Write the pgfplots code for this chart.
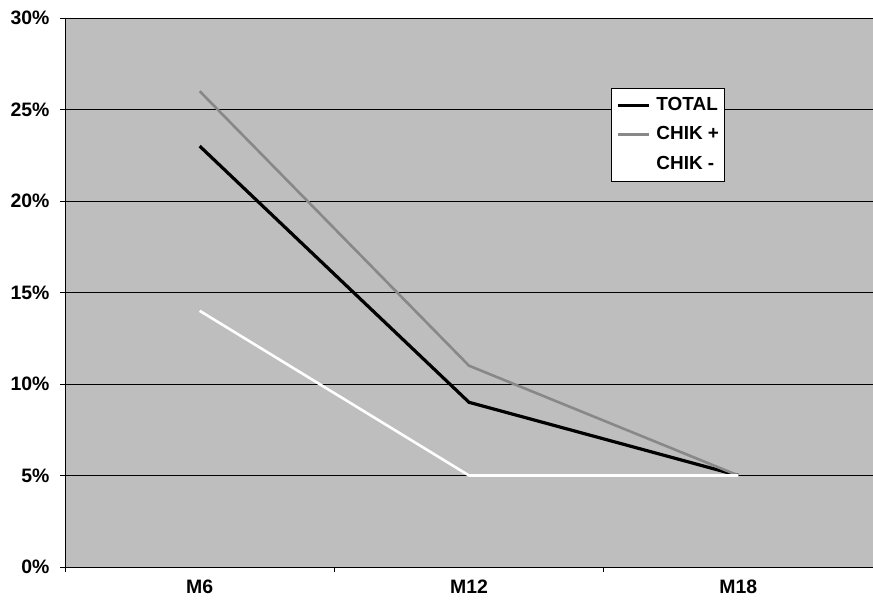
\documentclass[border=0pt]{standalone}
\usepackage{pgfplots}
\pgfplotsset{compat=1.18}
\usepackage{fontspec}
\setmainfont{Liberation Sans}
\definecolor{bgplot}{RGB}{190,190,190}
\definecolor{chikplus}{RGB}{136,136,136}
\newcommand{\tl}[1]{\mbox{\fontsize{19.5}{22}\selectfont\bfseries #1}}
\begin{document}
\begin{tikzpicture}
\useasboundingbox (0,0) rectangle (873bp,607bp);
\begin{axis}[
  at={(65bp,40bp)}, anchor=south west,
  scale only axis, width=808bp, height=549bp,
  xmin=0.5, xmax=3.5, ymin=0, ymax=30,
  axis background/.style={fill=bgplot},
  axis x line*=bottom, axis y line*=left,
  axis line style={black, line width=0.9pt, -},
  xtick={0.5,1.5,2.5,3.5},
  xticklabels={\tl{M6},\tl{M12},\tl{M18}},
  x tick label as interval,
  ytick={0,5,10,15,20,25,30},
  yticklabels={\tl{0\%},\tl{5\%},\tl{10\%},\tl{15\%},\tl{20\%},\tl{25\%},\tl{30\%}},
  ymajorgrids,
  grid style={black, line width=0.6pt},
  tick align=outside,
  major tick length=5bp,
  tick style={black, line width=0.6pt},
  x tick label style={yshift=-4bp},
  y tick label style={xshift=-7bp},
  legend style={at={(0.6757,0.8725)}, anchor=north west, draw=black, fill=white,
    font=\fontsize{19}{22}\selectfont\bfseries,
    nodes={inner sep=0pt, text height=14bp, text depth=4bp},
    row sep=11.5bp, column sep=6bp,
    inner xsep=5bp, inner ysep=8bp, line width=0.6pt},
  legend cell align=left,
  legend image code/.code={\draw[#1] (0bp,0bp) -- (31bp,0bp);},
  clip=false,
]
\addplot[black, line width=3.2bp] coordinates {(1,23) (2,9) (3,5)};
\addlegendentry{TOTAL}
\addplot[chikplus, line width=2.6bp] coordinates {(1,26) (2,11) (3,5)};
\addlegendentry{CHIK +}
\addplot[white, line width=2.6bp] coordinates {(1,14) (2,5) (3,5)};
\addlegendentry{CHIK -}
\end{axis}
\end{tikzpicture}
\end{document}
